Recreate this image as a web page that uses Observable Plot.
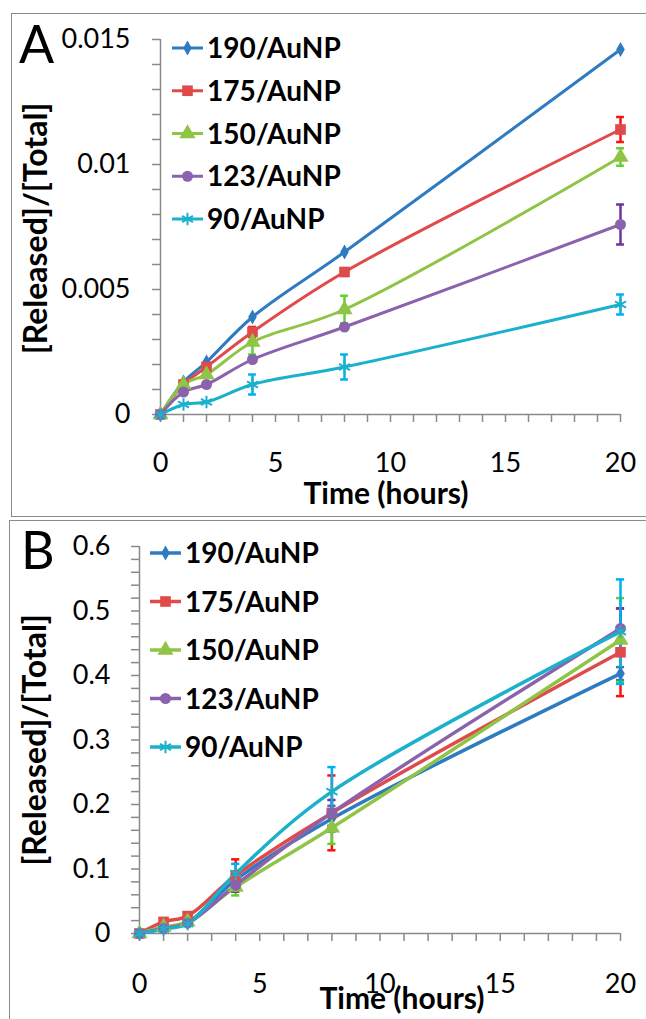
<!DOCTYPE html>
<html><head><meta charset="utf-8">
<script src="https://cdn.jsdelivr.net/npm/d3@7"></script>
<script src="https://cdn.jsdelivr.net/npm/@observablehq/plot@0.6"></script>
<style>
body{margin:0;background:#fff;}
#wrap{position:relative;width:646px;height:1019px;overflow:hidden;background:#fff;font-family:Lato,sans-serif;}
.panel{position:absolute;left:0;}
.border{position:absolute;border:1.5px solid #8a8a8a;box-sizing:border-box;pointer-events:none;}
</style></head><body><div id="wrap"></div>
<script>
// ---- data ----
const hours = [0, 1, 2, 4, 8, 20];
const seriesNames = ["190/AuNP", "175/AuNP", "150/AuNP", "123/AuNP", "90/AuNP"];

// Panel A: [Released]/[Total]
const a190 = [0, 0.0013, 0.0021, 0.0039, 0.0065, 0.0146];
const a175 = [0, 0.0012, 0.0019, 0.0033, 0.0057, 0.0114];
const a150 = [0, 0.0012, 0.0016, 0.0029, 0.0042, 0.0103];
const a123 = [0, 0.0009, 0.0012, 0.0022, 0.0035, 0.0076];
const a90  = [0, 0.0004, 0.0005, 0.0012, 0.0019, 0.0044];
const aErr190 = [0, 0, 0, 0, 0, 0];
const aErr175 = [0, 0, 0, 0.0002, 0, 0.0005];
const aErr150 = [0, 0, 0, 0.0005, 0.00055, 0.00035];
const aErr123 = [0, 0, 0, 0, 0, 0.0008];
const aErr90  = [0, 0, 0, 0.0004, 0.0005, 0.0004];

// Panel B: [Released]/[Total]
const b190 = [0, 0.008, 0.017, 0.083, 0.178, 0.403];
const b175 = [0, 0.018, 0.027, 0.090, 0.187, 0.436];
const b150 = [0, 0.010, 0.018, 0.072, 0.164, 0.455];
const b123 = [0, 0.008, 0.016, 0.075, 0.187, 0.473];
const b90  = [0, 0.007, 0.015, 0.093, 0.220, 0.468];
const bErr190 = [0, 0, 0, 0.01, 0.02, 0.01];
const bErr175 = [0, 0, 0, 0.025, 0.058, 0.068];
const bErr150 = [0, 0, 0, 0.013, 0.025, 0.065];
const bErr123 = [0, 0, 0, 0.01, 0.02, 0.031];
const bErr90  = [0, 0, 0, 0.015, 0.038, 0.081];

// tick labels
const xTickValues = [0, 5, 10, 15, 20];
const xTickLabels = ["0", "5", "10", "15", "20"];
const yTickValuesA = [0, 0.005, 0.01, 0.015];
const yTickLabelsA = ["0", "0.005", "0.01", "0.015"];
const yTickValuesB = [0, 0.1, 0.2, 0.3, 0.4, 0.5, 0.6];
const yTickLabelsB = ["0", "0.1", "0.2", "0.3", "0.4", "0.5", "0.6"];
const xMinorTicks = d3.range(0, 21);
const yMinorTicksA = d3.range(0, 16).map(i => i * 0.001);
const yMinorTicksB = d3.range(0, 31).map(i => i * 0.02);
const xTitle = "Time (hours)";
const yTitle = "[Released]/[Total]";

// ---- styles ----
const lineColors = ["#2e7bc2", "#e04a4a", "#8fc447", "#8a63ac", "#1bb0cc"];
const errColors  = ["#2e7bc2", "#ff1010", "#5fd22e", "#7030a0", "#00b0f0"];
const symbols = ["diamond", "square", "triangle", "circle", "asterisk"];
const d3Symbols = [d3.symbolDiamond, d3.symbolSquare, d3.symbolTriangle, d3.symbolCircle, d3.symbolAsterisk];
const symR = [4.5, 6, 6, 5.5, 6];
const axisGray = "#8a8a8a";
const font = "Lato, 'Open Sans', sans-serif";

function makePanel(cfg) {
  const rowsBySeries = cfg.values.map((vals, s) =>
    hours.map((h, i) => ({h, v: vals[i], e: cfg.errors[s][i]})));
  const marks = [
    Plot.ruleY([0], {stroke: axisGray, strokeWidth: 1.5}),
    Plot.ruleX([0], {stroke: axisGray, strokeWidth: 1.5}),
    Plot.axisY({ticks: cfg.yMinor, tickSize: 8, tickFormat: () => "", stroke: axisGray, strokeWidth: 1.5, label: null}),
    Plot.axisY({ticks: cfg.yTicks, tickSize: 0, tickPadding: cfg.yPad, tickFormat: d => cfg.yLabels[cfg.yTicks.indexOf(d)], fontSize: 27, fontFamily: font, fill: "#000", label: null}),
    Plot.axisX({ticks: xMinorTicks, tickSize: 8, tickFormat: () => "", stroke: axisGray, strokeWidth: 1.5, label: null}),
    Plot.axisX({ticks: xTickValues, tickSize: 0, tickPadding: cfg.xPad, tickFormat: d => xTickLabels[xTickValues.indexOf(d)], fontSize: 27, fontFamily: font, fill: "#000", label: null}),
  ];
  rowsBySeries.forEach((rows, s) => {
    marks.push(Plot.line(rows, {x: "h", y: "v", stroke: lineColors[s], strokeWidth: cfg.lw, curve: "catmull-rom"}));
  });
  rowsBySeries.forEach((rows, s) => {
    const er = rows.filter(d => d.e > 0);
    marks.push(Plot.ruleX(er, {x: "h", y1: d => d.v - d.e, y2: d => d.v + d.e, stroke: errColors[s], strokeWidth: 2.5}));
    marks.push(Plot.ruleY(er, {y: d => d.v + d.e, x1: d => d.h - 0.17, x2: d => d.h + 0.17, stroke: errColors[s], strokeWidth: 2.5}));
    marks.push(Plot.ruleY(er, {y: d => d.v - d.e, x1: d => d.h - 0.17, x2: d => d.h + 0.17, stroke: errColors[s], strokeWidth: 2.5}));
  });
  rowsBySeries.forEach((rows, s) => {
    if (symbols[s] === "asterisk")
      marks.push(Plot.dot(rows, {x: "h", y: "v", symbol: symbols[s], r: symR[s], stroke: lineColors[s], strokeWidth: 2, fill: "none"}));
    else
      marks.push(Plot.dot(rows, {x: "h", y: "v", symbol: symbols[s], r: symR[s], fill: lineColors[s], stroke: "none"}));
  });

  const svg = Plot.plot({
    width: 646, height: cfg.height,
    marginLeft: cfg.ml, marginRight: cfg.mr, marginTop: cfg.mt, marginBottom: cfg.mb,
    x: {domain: [0, 20]},
    y: {domain: cfg.yDomain},
    style: {fontFamily: font, background: "transparent", overflow: "visible"},
    marks
  });

  const root = d3.select(svg);
  root.append("text").text(yTitle)
    .attr("transform", `translate(${cfg.yTitleX},${cfg.yTitleY}) rotate(-90)`)
    .attr("text-anchor", "middle").attr("font-family", font).attr("font-weight", "bold")
    .attr("font-size", 32).attr("fill", "#000");
  root.append("text").text(xTitle)
    .attr("x", cfg.xTitleX).attr("y", cfg.xTitleY)
    .attr("text-anchor", "middle").attr("font-family", font).attr("font-weight", "bold")
    .attr("font-size", 30).attr("fill", "#000");
  root.append("text").text(cfg.letter)
    .attr("x", cfg.letterX).attr("y", cfg.letterY)
    .attr("text-anchor", "start").attr("font-family", font).attr("font-size", 52).attr("fill", "#000");

  // legend
  const g = root.append("g");
  seriesNames.forEach((name, s) => {
    const y = cfg.legY0 + s * cfg.legDy;
    const row = g.append("g");
    row.append("line").attr("x1", cfg.legX).attr("x2", cfg.legX + 31).attr("y1", y).attr("y2", y)
      .attr("stroke", lineColors[s]).attr("stroke-width", cfg.lw);
    const sym = d3.symbol(d3Symbols[s], Math.PI * symR[s] * symR[s])();
    const p = row.append("path").attr("d", sym).attr("transform", `translate(${cfg.legX + 15.5},${y})`);
    if (symbols[s] === "asterisk") p.attr("fill", "none").attr("stroke", lineColors[s]).attr("stroke-width", 2);
    else p.attr("fill", lineColors[s]);
    row.append("text").attr("x", cfg.legX + 35).attr("y", y + 10).text(name)
      .attr("text-anchor", "start")
      .attr("font-family", font).attr("font-weight", "bold").attr("font-size", 28).attr("fill", "#000");
  });
  return svg;
}

const wrap = document.getElementById("wrap");

const svgA = makePanel({
  letter: "A", height: 516, ml: 160, mr: 26, mt: 39, mb: 102,
  yDomain: [0, 0.015], yTicks: yTickValuesA, yLabels: yTickLabelsA, yMinor: yMinorTicksA,
  values: [a190, a175, a150, a123, a90], errors: [aErr190, aErr175, aErr150, aErr123, aErr90],
  yPad: 30, xPad: 38, lw: 3,
  yTitleX: 47, yTitleY: 228.5, xTitleX: 386, xTitleY: 504,
  letterX: 19, letterY: 63,
  legX: 172, legY0: 48, legDy: 42.75
});
const divA = document.createElement("div"); divA.className = "panel"; divA.style.top = "0px";
divA.appendChild(svgA); wrap.appendChild(divA);

const svgB = makePanel({
  letter: "B", height: 503, ml: 139, mr: 26, mt: 30, mb: 86,
  yDomain: [0, 0.6], yTicks: yTickValuesB, yLabels: yTickLabelsB, yMinor: yMinorTicksB,
  values: [b190, b175, b150, b123, b90], errors: [bErr190, bErr175, bErr150, bErr123, bErr90],
  yPad: 29, xPad: 40, lw: 3.5,
  yTitleX: 46, yTitleY: 224, xTitleX: 402, xTitleY: 493,
  letterX: 21, letterY: 53,
  legX: 150, legY0: 37, legDy: 48.5
});
const divB = document.createElement("div"); divB.className = "panel"; divB.style.top = "516px";
divB.appendChild(svgB); wrap.appendChild(divB);

const bA = document.createElement("div"); bA.className = "border";
Object.assign(bA.style, {left: "11px", top: "13px", width: "700px", height: "504px"});
wrap.appendChild(bA);
const bB = document.createElement("div"); bB.className = "border";
Object.assign(bB.style, {left: "9px", top: "520px", width: "700px", height: "600px"});
wrap.appendChild(bB);
</script></body></html>
